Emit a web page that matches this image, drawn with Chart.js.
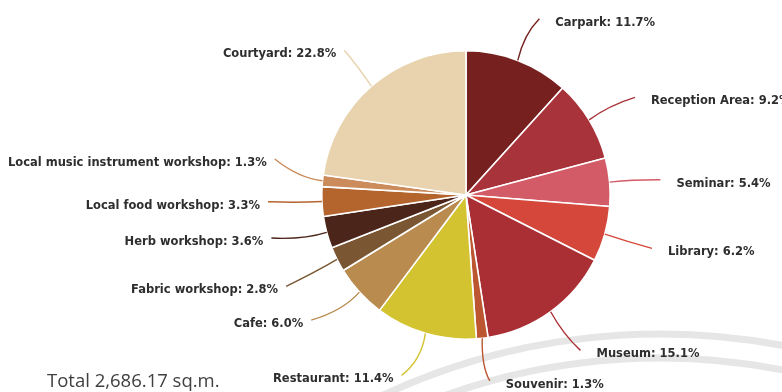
<!DOCTYPE html>
<html>
<head>
<meta charset="utf-8">
<script src="https://cdn.jsdelivr.net/npm/chart.js@4/dist/chart.umd.min.js"></script>
<style>
  html, body { margin: 0; padding: 0; background: #ffffff; }
  #wrap { width: 782px; height: 392px; position: relative; }
</style>
</head>
<body>
<div id="wrap"><canvas id="areaPie" width="782" height="392"></canvas></div>
<script>
// Floor-area shares of the building programme, clockwise from the top
const spaces = [
  'Carpark', 'Reception Area', 'Seminar', 'Library', 'Museum', 'Souvenir',
  'Restaurant', 'Cafe', 'Fabric workshop', 'Herb workshop',
  'Local food workshop', 'Local music instrument workshop', 'Courtyard'
];
const sharePercent = [11.7, 9.2, 5.4, 6.2, 15.1, 1.3, 11.4, 6.0, 2.8, 3.6, 3.3, 1.3, 22.8];
const sliceColors = [
  '#76211f', '#a8333a', '#d35a67', '#d4473a', '#aa2f35', '#bb5630',
  '#d4c331', '#b98b4e', '#7a5633', '#4b2519', '#b4652e', '#cb8b5b', '#e8d3ae'
];
const totalArea = 'Total 2,686.17 sq.m.';

// Small hand adjustments of each label's leader end, in pixels [dx, dy]
const labelNudge = [
  [4, 4], [4, 3], [2, 2], [0, 1], [1, -1], [2, -6],
  [-10, -5], [-12, -5], [-7, 5], [-8, -7], [-5, -2], [1, -17], [5, 1]
];

// Faint decorative rings behind the chart, plus the total caption
const backdrop = {
  id: 'backdrop',
  beforeDraw(chart) {
    const ctx = chart.ctx;
    ctx.save();
    ctx.fillStyle = '#ffffff';
    ctx.fillRect(0, 0, chart.width, chart.height);
    ctx.strokeStyle = '#e6e6e6';
    ctx.lineWidth = 7;
    [658, 634].forEach(r => {
      ctx.beginPath();
      ctx.arc(660, 992, r, Math.PI * 1.1, Math.PI * 1.9);
      ctx.stroke();
    });
    ctx.fillStyle = '#404040';
    ctx.font = '18.5px "Open Sans"';
    ctx.textAlign = 'left';
    ctx.textBaseline = 'alphabetic';
    ctx.fillText(totalArea, 47, 387);
    ctx.restore();
  }
};

// Outside labels joined to each slice by a thin curved leader
const leaderLabels = {
  id: 'leaderLabels',
  afterDatasetsDraw(chart) {
    const ctx = chart.ctx;
    const meta = chart.getDatasetMeta(0);
    ctx.save();
    ctx.font = 'bold 11.5px "DejaVu Sans"';
    ctx.textBaseline = 'middle';
    meta.data.forEach((arc, i) => {
      const p = arc.getProps(['x', 'y', 'startAngle', 'endAngle', 'outerRadius'], true);
      const mid = (p.startAngle + p.endAngle) / 2;
      const cos = Math.cos(mid), sin = Math.sin(mid);
      const r0 = p.outerRadius;
      const x0 = p.x + cos * r0, y0 = p.y + sin * r0;
      const x2 = p.x + cos * (r0 + 49) + labelNudge[i][0];
      const y2 = p.y + sin * (r0 + 49) + labelNudge[i][1];
      const right = x2 >= p.x;
      const cx = p.x + cos * (r0 + 28) - (right ? 4 : -4);
      const cy = p.y + sin * (r0 + 28);
      ctx.strokeStyle = sliceColors[i];
      ctx.lineWidth = 1.4;
      ctx.beginPath();
      ctx.moveTo(x0, y0);
      ctx.quadraticCurveTo(cx, cy, x2, y2);
      ctx.stroke();
      const text = spaces[i] + ': ' + sharePercent[i].toFixed(1) + '%';
      ctx.fillStyle = '#2e2e2e';
      ctx.textAlign = right ? 'left' : 'right';
      ctx.fillText(text, right ? x2 + 16 : x2 - 8, y2 + 4);
    });
    ctx.restore();
  }
};

new Chart(document.getElementById('areaPie'), {
  type: 'pie',
  data: {
    labels: spaces,
    datasets: [{
      data: sharePercent,
      backgroundColor: sliceColors,
      borderColor: '#ffffff',
      borderWidth: 1.6
    }]
  },
  options: {
    responsive: false,
    animation: false,
    layout: { padding: { left: 321, right: 171, top: 50, bottom: 52 } },
    plugins: {
      legend: { display: false },
      tooltip: { enabled: false }
    }
  },
  plugins: [backdrop, leaderLabels]
});
</script>
</body>
</html>
